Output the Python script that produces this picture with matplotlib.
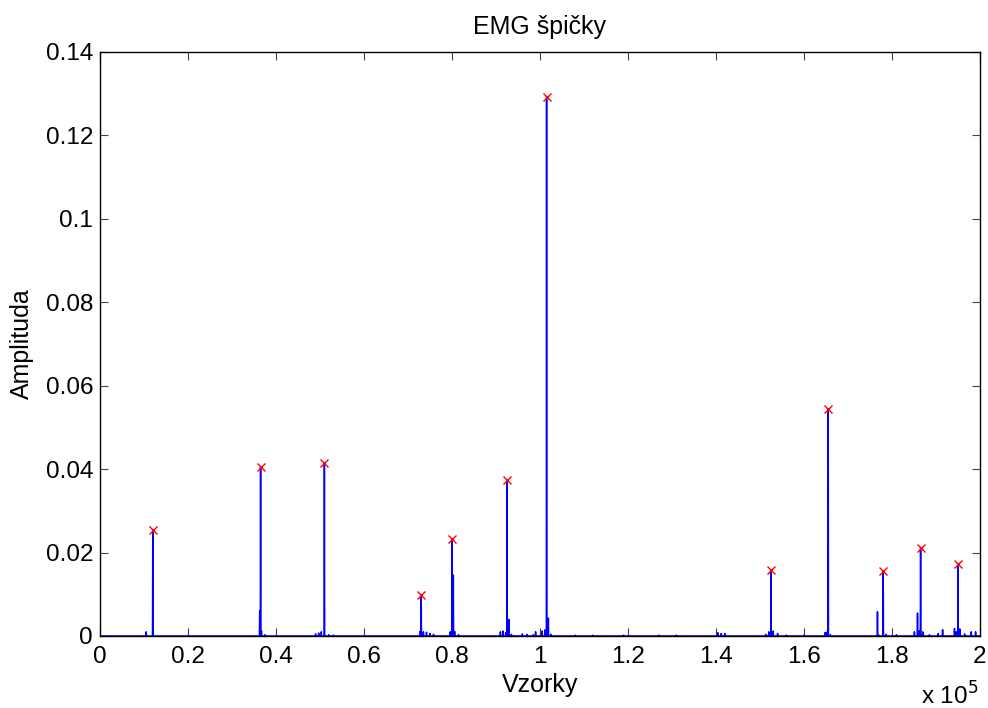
import numpy as np
import matplotlib
matplotlib.use("Agg")
import matplotlib.pyplot as plt
from matplotlib.ticker import FuncFormatter

plt.rcParams['font.family'] = ['Liberation Sans', 'DejaVu Sans']

# detected peaks (samples, amplitude)
peak_x = [12000, 36500, 51000, 73000, 80000, 92500, 101500, 152500, 165500, 178000, 186500, 195000]
peak_y = [0.0255, 0.0405, 0.0415, 0.0098, 0.0232, 0.0374, 0.1292, 0.0158, 0.0545, 0.0155, 0.0212, 0.0173]

# smaller spikes in the signal
small_x = [10500, 36300, 36700, 37500, 49000, 49700, 50300, 52000, 53000, 72800, 73500, 74200, 75000,
           75800, 79600, 80300, 80600, 81500, 91000, 91600, 92200, 92900, 93500, 96000, 97000, 98500,
           99000, 100500, 101200, 101900, 102500, 108000, 112000, 119000, 127000, 131000, 140400,
           141200, 142000, 151300, 152000, 153000, 154000, 156000, 160000, 164800, 165100, 166000,
           176700, 177000, 178600, 181000, 185100, 185800, 186200, 187000, 188500, 190500, 191500,
           194200, 194600, 195400, 196500, 198000, 199000]
small_y = [0.0010, 0.0060, 0.0012, 0.0003, 0.0005, 0.0007, 0.0010, 0.0003, 0.0002, 0.0012, 0.0010,
           0.0009, 0.0006, 0.0004, 0.0010, 0.0146, 0.0011, 0.0003, 0.0010, 0.0012, 0.0008, 0.0040,
           0.0004, 0.0005, 0.0004, 0.0003, 0.0010, 0.0012, 0.0015, 0.0043, 0.0004, 0.0002, 0.0002,
           0.0002, 0.0002, 0.0002, 0.0008, 0.0006, 0.0006, 0.0004, 0.0010, 0.0012, 0.0006, 0.0002,
           0.0002, 0.0008, 0.0009, 0.0003, 0.0058, 0.0002, 0.0004, 0.0003, 0.0010, 0.0055, 0.0012,
           0.0010, 0.0003, 0.0006, 0.0015, 0.0018, 0.0010, 0.0017, 0.0005, 0.0010, 0.0010]

sx = np.array(peak_x + small_x)
sy = np.array(peak_y + small_y)
order = np.argsort(sx)
sx, sy = sx[order], sy[order]

xs = np.concatenate([[0], np.repeat(sx, 3), [200000]]).astype(float)
ys = np.concatenate([[0], np.column_stack([np.zeros_like(sy), sy, np.zeros_like(sy)]).ravel(), [0]])
xs[1::3] -= 60
xs[3::3] += 60

fig = plt.figure(figsize=(9.88, 7.08), dpi=100)
ax = fig.add_axes([0.1012, 0.1017, 0.8907, 0.8249])
ax.plot(xs, ys, color='#0000ff', linewidth=1.1)
ax.plot(peak_x, peak_y, 'x', color='#ff0000', markersize=6, markeredgewidth=1.0)

ax.set_xlim(0, 200000)
ax.set_ylim(0, 0.14)
ax.set_xticks(np.arange(0, 200001, 20000))
ax.set_yticks(np.arange(0, 0.1401, 0.02))
ax.xaxis.set_major_formatter(FuncFormatter(lambda v, p: '%g' % (v / 1e5)))
ax.yaxis.set_major_formatter(FuncFormatter(lambda v, p: '%g' % round(v, 4)))
ax.tick_params(direction='in', top=True, right=True, labelsize=17.5, length=5.5,
               width=0.8, color='#444444')
ax.tick_params(axis='x', pad=7)
ax.tick_params(axis='y', pad=5)
for s in ax.spines.values():
    s.set_linewidth(1.0)

ax.set_title('EMG špičky', fontsize=18, pad=13)
ax.set_xlabel('Vzorky', fontsize=18, labelpad=4)
ax.set_ylabel('Amplituda', fontsize=18, labelpad=8)
ax.text(0.998, -0.118, 'x 10$^5$', transform=ax.transAxes, ha='right', va='baseline', fontsize=17.5)

fig.savefig('out.png', dpi=100)
